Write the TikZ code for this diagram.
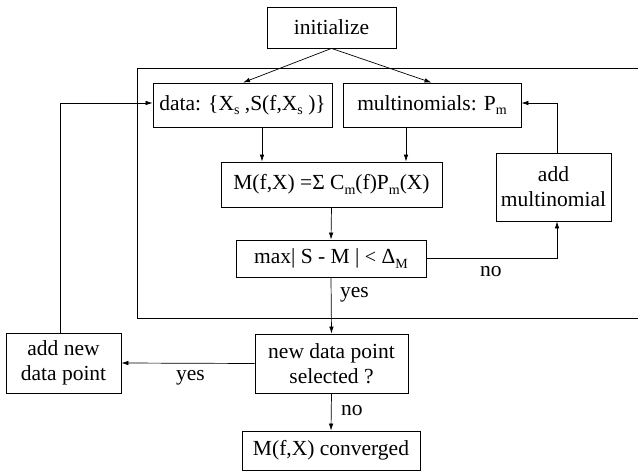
\documentclass[tikz,border=0pt]{standalone}
\usepackage{fontspec}
\setmainfont{Liberation Serif}
\usetikzlibrary{arrows.meta}
\newcommand\lsub[1]{\raisebox{-0.45ex}{\fontsize{14}{16}\selectfont #1}}
\begin{document}
\begin{tikzpicture}[x=1pt,y=-1pt,
  box/.style={draw,line width=0.8pt,inner sep=0pt,align=center,font=\fontsize{21.5}{25}\selectfont},
  conn/.style={line width=0.7pt,-{Latex[length=7pt,width=4.5pt]}},
  ln/.style={line width=0.7pt},
  lbl/.style={font=\fontsize{21.5}{25}\selectfont,inner sep=0pt,anchor=west}]
\useasboundingbox (0,0) rectangle (638,476);
\node[box,minimum width=129pt,minimum height=41pt] (init) at (331.5,27.5) {initialize};
\node[box,minimum width=179pt,minimum height=44pt] (data) at (242.5,105) {data: \{X\lsub{s} ,S(f,X\lsub{s} )\}};
\node[box,minimum width=178pt,minimum height=44pt] (multi) at (432,105) {multinomials: P\lsub{m}};
\node[box,minimum width=115pt,minimum height=68pt] (addmult) at (553.5,187) {add\\multinomial};
\node[box,minimum width=221pt,minimum height=45pt] (M) at (331.5,184.5) {M(f,X) =Σ C\lsub{m}(f)P\lsub{m}(X)};
\node[box,minimum width=190pt,minimum height=37pt] (max) at (331,258.5) {max| S - M | {\fontsize{20}{24}\selectfont<} Δ\lsub{M}};
\node[box,minimum width=153pt,minimum height=59pt] (newdp) at (331.5,363.5) {new data point\\selected ?};
\node[box,minimum width=115pt,minimum height=60pt] (addnew) at (63.5,363) {add new\\data point};
\node[box,minimum width=178pt,minimum height=39pt] (conv) at (331,450.5) {M(f,X) converged};
% frame
\coordinate (ftr) at (638,68);
\coordinate (fbr) at (638,318);
\draw[ln] (ftr) -- (137,68) -- (137,318) -- (fbr);
% connectors
\draw[conn] (init.south) -- ([xshift=0.5pt]data.north);
\draw[conn] (init.south) -- ([xshift=-0.5pt]multi.north);
\draw[conn] ([xshift=19.5pt]data.south) -- ([xshift=-69.5pt]M.north);
\draw[conn] ([xshift=-26pt]multi.south) -- ([xshift=74.5pt]M.north);
\draw[conn] (M.south) -- (max.north);
\coordinate (amS) at ([xshift=3.5pt]addmult.south);
\coordinate (amN) at ([xshift=3.5pt]addmult.north);
\draw[conn] (max.east) -| (amS);
\draw[conn] (amN) |- ([yshift=2pt]multi.east);
\draw[conn] (max.south) -- (newdp.north);
\draw[conn] (newdp.west) -- (addnew.east);
\draw[conn] ([xshift=-3.5pt]addnew.north) |- ([yshift=2pt]data.west);
\draw[conn] (newdp.south) -- (conv.north);
% labels
\node[lbl] (l1) at (480,272) {no};
\node[lbl] (l2) at (340,295) {yes};
\node[lbl] (l3) at (176,378) {yes};
\node[lbl] (l4) at (341,411) {no};
\end{tikzpicture}
\end{document}
